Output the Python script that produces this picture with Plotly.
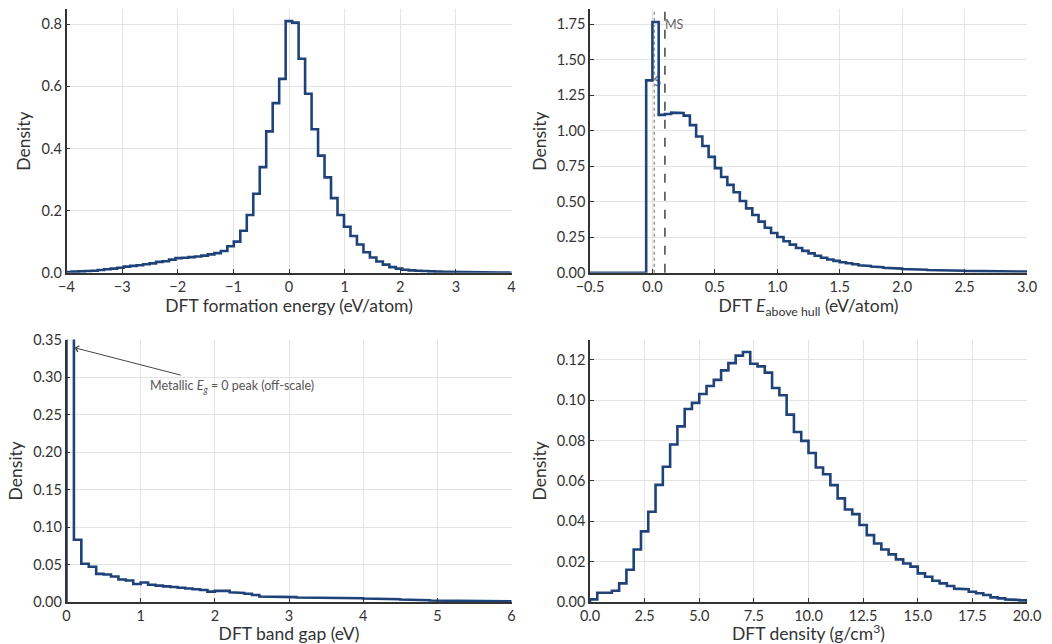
import numpy as np
import plotly.graph_objects as go

# ---------------- data ----------------
# Panel 1: DFT formation energy histogram (eV/atom)
fe_bin_start = -4.021
fe_bin_width = 0.1165
fe_density = [
    0.002, 0.0033, 0.0043, 0.0054, 0.0065, 0.0087, 0.011, 0.013, 0.016, 0.0196,
    0.022, 0.024, 0.027, 0.030, 0.035, 0.037, 0.042, 0.047, 0.048, 0.050,
    0.052, 0.055, 0.059, 0.063, 0.070, 0.085, 0.100, 0.135, 0.186, 0.254,
    0.340, 0.455, 0.546, 0.624, 0.810, 0.805, 0.689, 0.576, 0.462, 0.377,
    0.307, 0.240, 0.186, 0.148, 0.118, 0.091, 0.066, 0.049, 0.036, 0.026,
    0.018, 0.013, 0.0097, 0.0076, 0.0065, 0.0054, 0.0043, 0.0035, 0.003, 0.0025,
    0.002, 0.0018, 0.0015, 0.0013, 0.0011, 0.001, 0.0009, 0.0008, 0.0007,
]

# Panel 2: DFT energy above hull histogram (eV/atom)
eh_bin_start = -0.5
eh_bin_width = 0.05
eh_density = [
    0, 0, 0, 0, 0, 0, 0, 0, 0,
    1.355, 1.767, 1.112, 1.118, 1.128, 1.126, 1.107, 1.040, 0.960, 0.893,
    0.816, 0.737, 0.674, 0.619, 0.567, 0.505, 0.453, 0.407, 0.360, 0.317,
    0.280, 0.252, 0.222, 0.198, 0.174, 0.154, 0.136, 0.119, 0.105, 0.093,
    0.083, 0.074, 0.067, 0.060, 0.053, 0.048, 0.043, 0.038, 0.034, 0.031,
    0.029, 0.026, 0.024, 0.022, 0.021, 0.019, 0.018, 0.017, 0.016, 0.015,
    0.014, 0.013, 0.013, 0.012, 0.011, 0.011, 0.010, 0.010, 0.009, 0.009,
    0.008,
]
eh_thresholds = [0.015, 0.1]
eh_threshold_labels = ["S", "MS"]
eh_label_y = [1.34, 1.74]

# Panel 3: DFT band gap histogram (eV)
bg_bin_start = 0.0
bg_bin_width = 0.1
bg_density = [
    3.2, 0.083, 0.051, 0.047, 0.0375, 0.0366, 0.034, 0.030, 0.0287, 0.024,
    0.026, 0.023, 0.0218, 0.0208, 0.020, 0.019, 0.018, 0.017, 0.016, 0.0139,
    0.0148, 0.0148, 0.013, 0.012, 0.011, 0.0093, 0.0074, 0.0074, 0.007, 0.007,
    0.0065, 0.006, 0.006, 0.0056, 0.0056, 0.0056, 0.0051, 0.0051, 0.0051, 0.0051,
    0.0046, 0.0042, 0.0042, 0.0037, 0.0037, 0.0032, 0.0023, 0.0023, 0.0023, 0.0019,
    0.0019, 0.0014, 0.0014, 0.0014, 0.0014, 0.0014, 0.001, 0.001, 0.001, 0.001,
]

# Panel 4: DFT density histogram (g/cm3)
rho_bin_start = 0.0
rho_bin_width = 1.0 / 3.0
rho_density = [
    0.0013, 0.0046, 0.0046, 0.0056, 0.0092, 0.016, 0.026, 0.035, 0.0447, 0.058,
    0.067, 0.078, 0.087, 0.0956, 0.0986, 0.103, 0.107, 0.110, 0.1147, 0.1183,
    0.122, 0.1238, 0.118, 0.1167, 0.1136, 0.106, 0.1024, 0.0928, 0.0842, 0.0798,
    0.0738, 0.0666, 0.0633, 0.0579, 0.0513, 0.0458, 0.0435, 0.0381, 0.0331, 0.029,
    0.026, 0.0236, 0.0211, 0.0191, 0.0175, 0.0142, 0.0125, 0.0105, 0.0092, 0.0079,
    0.0066, 0.0063, 0.0051, 0.0043, 0.0035, 0.0023, 0.0018, 0.0013, 0.001, 0.0008,
]

# ---------------- style ----------------
LINE = "#1f4278"
TXT = "#333333"
GRID = "#e3e3e3"
FONT = "Lato"


def step_xy(start, width, dens):
    dens = np.asarray(dens, dtype=float)
    edges = start + width * np.arange(len(dens) + 1)
    xs = np.repeat(edges, 2)
    ys = np.concatenate([[0.0], np.repeat(dens, 2), [0.0]])
    return xs, ys


fig = go.Figure()

# threshold labels (drawn beneath the histogram line)
fig.add_trace(go.Scatter(
    x=eh_thresholds, y=eh_label_y, text=eh_threshold_labels, mode="text",
    textposition="middle right", textfont=dict(family=FONT, size=12.5, color="#666666"),
    xaxis="x2", yaxis="y2", showlegend=False, hoverinfo="skip"))

for (st, w, d), xa, ya in [((fe_bin_start, fe_bin_width, fe_density), "x", "y"),
                           ((eh_bin_start, eh_bin_width, eh_density), "x2", "y2"),
                           ((bg_bin_start, bg_bin_width, bg_density), "x3", "y3"),
                           ((rho_bin_start, rho_bin_width, rho_density), "x4", "y4")]:
    xs, ys = step_xy(st, w, d)
    fig.add_trace(go.Scatter(x=xs, y=ys, mode="lines",
                             line=dict(color=LINE, width=2.6, shape="linear"),
                             xaxis=xa, yaxis=ya, showlegend=False, hoverinfo="skip"))

# threshold lines
fig.add_shape(type="line", xref="x2", yref="y2 domain", x0=eh_thresholds[0], x1=eh_thresholds[0],
              y0=0, y1=1, line=dict(color="#999999", width=1.5, dash="dot"), layer="below")
fig.add_shape(type="line", xref="x2", yref="y2 domain", x0=eh_thresholds[1], x1=eh_thresholds[1],
              y0=0, y1=1, line=dict(color="#444444", width=1.5, dash="dash"), layer="below")

# annotation for metallic peak
fig.add_annotation(x=0.11, y=0.339, ax=1.56, ay=0.302, xref="x3", yref="y3",
                   axref="x3", ayref="y3", text="", showarrow=True,
                   arrowhead=4, arrowsize=1.2, arrowwidth=1, arrowcolor="#444444")
fig.add_annotation(x=1.1, y=0.288, xref="x3", yref="y3", xanchor="left", yanchor="middle",
                   text="Metallic <i>E</i><sub><i>g</i></sub> = 0 peak (off-scale)",
                   showarrow=False, font=dict(family=FONT, size=12.5, color="#555555"))

xl, xr = [66.5 / 1052, 511.5 / 1052], [590 / 1052, 1027 / 1052]
yt, yb = [(644 - 272.7) / 644, (644 - 9.3) / 644], [(644 - 602) / 644, (644 - 339.5) / 644]

common = dict(showline=True, linecolor="#333333", linewidth=1.5, mirror=False,
              showgrid=True, gridcolor=GRID, gridwidth=1, zeroline=False,
              ticks="inside", ticklen=4, tickwidth=1.2, tickcolor="#333333",
              tickfont=dict(family=FONT, size=14.5, color=TXT), layer="above traces",
              automargin=False)
ttl = dict(family=FONT, size=17.5, color=TXT)

fig.update_layout(
    width=1052, height=644, margin=dict(l=0, r=0, t=0, b=0, autoexpand=False),
    paper_bgcolor="white", plot_bgcolor="white", showlegend=False,
    font=dict(family=FONT, color=TXT),
    xaxis=dict(domain=xl, anchor="y", range=[-4, 4], dtick=1, tick0=0,
               title=dict(text="DFT formation energy (eV/atom)", font=ttl, standoff=4), **common),
    yaxis=dict(domain=yt, anchor="x", range=[0, 0.848], dtick=0.2, tickformat=".1f",
               title=dict(text="Density", font=ttl, standoff=6), **common),
    xaxis2=dict(domain=xr, anchor="y2", range=[-0.5, 3.0], dtick=0.5, tick0=0, tickformat=".1f",
                title=dict(text="DFT <i>E</i><sub>above hull</sub> (eV/atom)", font=ttl, standoff=4), **common),
    yaxis2=dict(domain=yt, anchor="x2", range=[0, 1.856], dtick=0.25, tickformat=".2f",
                title=dict(text="Density", font=ttl, standoff=6), **common),
    xaxis3=dict(domain=xl, anchor="y3", range=[0, 6], dtick=1,
                title=dict(text="DFT band gap (eV)", font=ttl, standoff=6), **common),
    yaxis3=dict(domain=yb, anchor="x3", range=[0, 0.35], dtick=0.05, tickformat=".2f",
                title=dict(text="Density", font=ttl, standoff=6), **common),
    xaxis4=dict(domain=xr, anchor="y4", range=[0, 20], dtick=2.5, tickformat=".1f",
                title=dict(text="DFT density (g/cm<sup>3</sup>)", font=ttl, standoff=6), **common),
    yaxis4=dict(domain=yb, anchor="x4", range=[0, 0.130], dtick=0.02, tickformat=".2f",
                title=dict(text="Density", font=ttl, standoff=6), **common),
)

fig.write_html("out.html")
